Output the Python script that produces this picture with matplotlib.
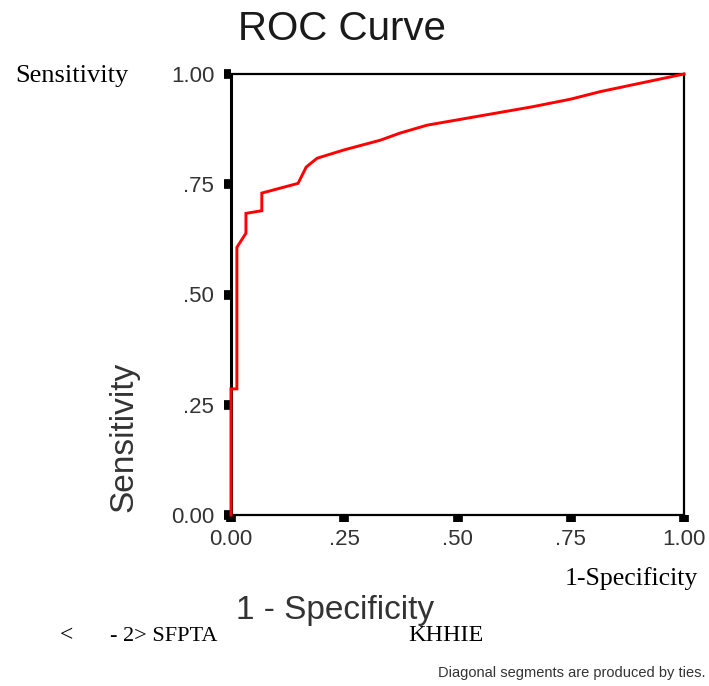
import matplotlib
matplotlib.use("Agg")
import matplotlib.pyplot as plt
from matplotlib import font_manager

# Data
fpr = [0, 0, 0.013, 0.013, 0.033, 0.033, 0.068, 0.068, 0.148, 0.166, 0.19,
       0.25, 0.33, 0.373, 0.433, 0.50, 0.667, 0.75, 0.815, 1.0]
tpr = [0, 0.286, 0.286, 0.607, 0.639, 0.684, 0.69, 0.73, 0.752, 0.789, 0.809,
       0.828, 0.85, 0.866, 0.884, 0.896, 0.926, 0.943, 0.96, 1.0]
tick_vals = [0.0, 0.25, 0.5, 0.75, 1.0]
tick_labels = ["0.00", ".25", ".50", ".75", "1.00"]

W, H = 709, 686
fig = plt.figure(figsize=(W / 100, H / 100), dpi=100)
ax = fig.add_axes([231 / W, 1 - 515 / H, (684 - 231) / W, (515 - 74) / H])

available = {f.name for f in font_manager.fontManager.ttflist}
sans = ["Liberation Sans", "DejaVu Sans"]
serif = ["Liberation Serif", "DejaVu Serif"]
narrow = None
for cand in ["Liberation Sans Narrow", "DejaVu Sans Condensed"]:
    if cand in available:
        narrow = cand
        break

ax.plot(fpr, tpr, color="#ff0000", lw=2.1, solid_joinstyle="miter", clip_on=False, zorder=3)
ax.set_xlim(0, 1)
ax.set_ylim(0, 1)
ax.set_xticks(tick_vals)
ax.set_xticklabels(tick_labels, family=sans, fontsize=16, color="#333333")
ax.set_yticks(tick_vals)
ax.set_yticklabels(tick_labels, family=sans, fontsize=16, color="#333333")
ax.tick_params(axis="both", direction="out", length=5, width=7, color="black")
ax.tick_params(axis="y", pad=7)
ax.tick_params(axis="x", pad=5)
for s in ["top", "right", "bottom"]:
    ax.spines[s].set_linewidth(1.6)
ax.spines["left"].set_linewidth(2.2)

fig.text(342 / W, 1 - 29 / H, "ROC Curve", family=sans, fontsize=29,
         ha="center", va="center", color="#1a1a1a")
fig.text(124 / W, 1 - 437 / H, "Sensitivity", family=sans, fontsize=24,
         rotation=90, ha="center", va="center", color="#333333")
fig.text(335 / W, 1 - 619 / H, "1 - Specificity", family=sans, fontsize=24,
         ha="center", va="baseline", color="#333333")

fig.text(15 / W, 1 - 82 / H, "Sensitivity", family=serif, fontsize=19,
         ha="left", va="baseline", color="black")
fig.text(565 / W, 1 - 585 / H, "1-Specificity", family=serif, fontsize=18.5,
         ha="left", va="baseline", color="black")
fig.text(60 / W, 1 - 641 / H, "<", family=serif, fontsize=17,
         ha="left", va="baseline", color="black")
fig.text(110 / W, 1 - 641 / H, "- 2> SFPTA", family=serif, fontsize=16,
         ha="left", va="baseline", color="black")
fig.text(408 / W, 1 - 641 / H, "KHHIE", family=serif, fontsize=17.5,
         ha="left", va="baseline", color="black")
if narrow:
    fig.text(706 / W, 1 - 677 / H, "Diagonal segments are produced by ties.",
             family=[narrow, "Liberation Sans"], fontsize=12.5, ha="right",
             va="baseline", color="#333333")
else:
    fig.text(706 / W, 1 - 677 / H, "Diagonal segments are produced by ties.",
             family=sans, fontsize=10.5, ha="right", va="baseline", color="#333333")

fig.savefig("out.png", dpi=100, facecolor="white")
